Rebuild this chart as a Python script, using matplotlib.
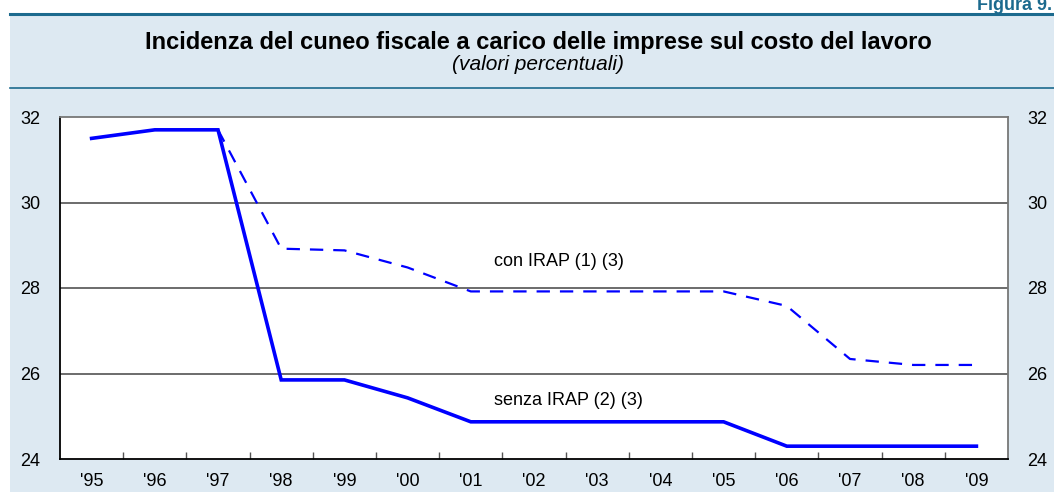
import matplotlib

matplotlib.use("Agg")
import matplotlib.pyplot as plt
from matplotlib.patches import Rectangle
from matplotlib.lines import Line2D

YEARS = ["'95", "'96", "'97", "'98", "'99", "'00", "'01", "'02",
         "'03", "'04", "'05", "'06", "'07", "'08", "'09"]
SENZA_IRAP = [31.5, 31.7, 31.7, 25.85, 25.85, 25.43, 24.87, 24.87,
              24.87, 24.87, 24.87, 24.3, 24.3, 24.3, 24.3]
CON_IRAP = [None, None, 31.7, 28.92, 28.88, 28.48, 27.92, 27.92,
            27.92, 27.92, 27.92, 27.58, 26.34, 26.2, 26.2]

BG = "#dde9f2"
TEAL = "#1c6a8e"
LINE = "#0000ff"

plt.rcParams["font.family"] = ["Liberation Sans", "DejaVu Sans"]

W, H = 1054, 492
fig = plt.figure(figsize=(W / 100, H / 100), dpi=100)
fig.patch.set_facecolor("white")


def fy(py):
    return 1 - py / H


# panel background and rules
fig.patches.append(Rectangle((10 / W, 0), 1 - 10 / W, fy(14), transform=fig.transFigure,
                             facecolor=BG, edgecolor="none", zorder=-10))
fig.lines.append(Line2D([10 / W, 1], [fy(13.5), fy(13.5)], transform=fig.transFigure,
                        color=TEAL, linewidth=2.2, zorder=-5))
fig.lines.append(Line2D([10 / W, 1], [fy(88), fy(88)], transform=fig.transFigure,
                        color=TEAL, linewidth=1.2, zorder=-5))

fig.text(1052 / W, fy(10), "Figura 9.", ha="right", va="baseline",
         fontsize=13, fontweight="bold", color=TEAL)
fig.text(538 / W, fy(42), "Incidenza del cuneo fiscale a carico delle imprese sul costo del lavoro",
         ha="center", va="center", fontsize=17, fontweight="bold")
fig.text(538 / W, fy(65), "(valori percentuali)", ha="center", va="center",
         fontsize=15, style="italic")

ax = fig.add_axes([60 / W, fy(459), (1008 - 60) / W, (459 - 117) / H])
ax.set_facecolor("white")

x = list(range(len(YEARS)))
ax.plot(x, SENZA_IRAP, color=LINE, linewidth=2.6, solid_joinstyle="miter", zorder=3)
xc = [i for i, v in zip(x, CON_IRAP) if v is not None]
yc = [v for v in CON_IRAP if v is not None]
ax.plot(xc, yc, color=LINE, linewidth=1.6, dashes=(6, 4.5), zorder=3)

ax.set_xlim(-0.5, len(YEARS) - 0.5)
ax.set_ylim(24, 32)
ax.set_yticks([24, 26, 28, 30, 32])
ax.set_xticks(x)
ax.set_xticklabels(YEARS)
ax.set_xticks([i + 0.5 for i in range(len(YEARS) - 1)], minor=True)
ax.tick_params(axis="x", which="major", length=0, pad=10, labelsize=13)
ax.tick_params(axis="x", which="minor", direction="in", length=5, width=1, color="#555555")
ax.tick_params(axis="y", length=0, pad=14, labelsize=13, labelright=True)

for yv in [26, 28, 30]:
    ax.axhline(yv, color="#444444", linewidth=1.1, zorder=1)

ax.spines["left"].set_color("black")
ax.spines["bottom"].set_color("black")
ax.spines["top"].set_color("#777777")
ax.spines["right"].set_color("#777777")
for s in ax.spines.values():
    s.set_linewidth(1.3)

ax.text(7.4, 28.61, "con IRAP (1) (3)", ha="center", va="center", fontsize=13)
ax.text(7.54, 25.38, "senza IRAP (2) (3)", ha="center", va="center", fontsize=13)

fig.savefig("out.png", dpi=100, facecolor="white")
